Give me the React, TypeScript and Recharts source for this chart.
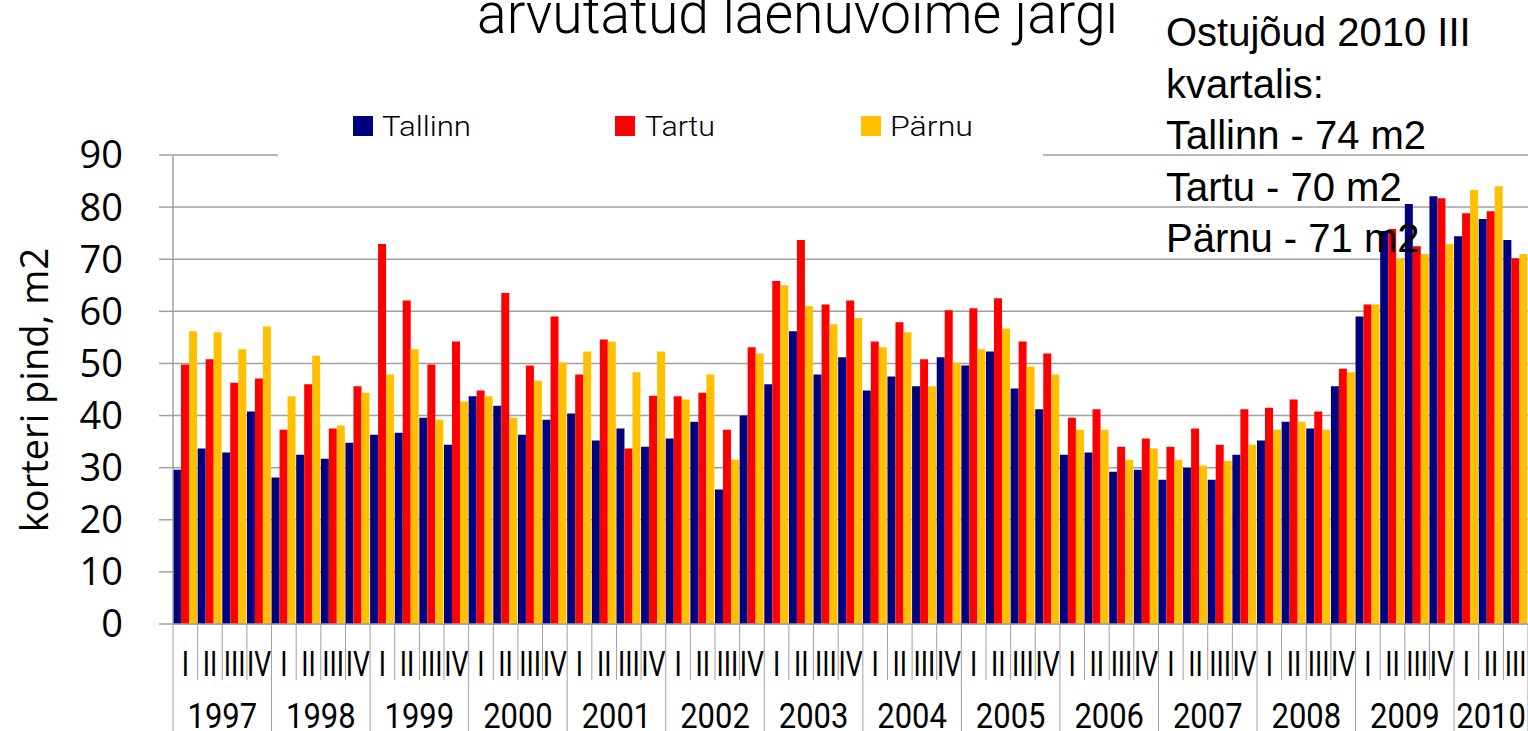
import { Bar, BarChart, CartesianGrid, Legend, XAxis, YAxis } from "recharts";

const years = ["1997", "1998", "1999", "2000", "2001", "2002", "2003", "2004", "2005", "2006", "2007", "2008", "2009", "2010"];
const quarters = ["I", "II", "III", "IV"];

// korteri pind m2, kvartalite kaupa 1997 I ... 2010 III
const tallinn = [
  29.6, 33.7, 32.9, 40.8, 28.1, 32.5, 31.7, 34.8, 36.3, 36.7, 39.6, 34.4,
  43.7, 41.9, 36.3, 39.2, 40.4, 35.2, 37.5, 34.0, 35.6, 38.8, 25.8, 40.0,
  46.0, 56.2, 47.9, 51.2, 44.8, 47.5, 45.6, 51.2, 49.6, 52.3, 45.2, 41.2,
  32.5, 32.9, 29.2, 29.6, 27.7, 30.0, 27.7, 32.5, 35.2, 38.8, 37.5, 45.6,
  59.0, 75.4, 80.6, 82.1, 74.4, 77.7, 73.7,
];
const tartu = [
  49.8, 50.8, 46.3, 47.1, 37.3, 46.0, 37.5, 45.6, 72.9, 62.1, 49.8, 54.2,
  44.8, 63.5, 49.6, 59.0, 47.9, 54.6, 33.7, 43.8, 43.7, 44.4, 37.3, 53.1,
  65.8, 73.7, 61.3, 62.1, 54.2, 57.9, 50.8, 60.2, 60.6, 62.5, 54.2, 51.9,
  39.6, 41.2, 34.0, 35.6, 34.0, 37.5, 34.4, 41.2, 41.5, 43.1, 40.8, 49.0,
  61.3, 75.8, 72.5, 81.7, 78.8, 79.2, 70.2,
];
const parnu = [
  56.2, 56.0, 52.7, 57.1, 43.7, 51.5, 38.1, 44.4, 47.9, 52.7, 39.2, 42.7,
  43.7, 39.6, 46.7, 50.2, 52.3, 54.2, 48.3, 52.3, 43.1, 47.9, 31.5, 51.9,
  65.0, 61.0, 57.5, 58.7, 53.1, 56.0, 45.6, 50.2, 52.7, 56.7, 49.4, 47.9,
  37.3, 37.3, 31.5, 33.7, 31.5, 30.4, 31.3, 34.4, 37.3, 38.8, 37.3, 48.3,
  61.3, 70.2, 71.0, 72.9, 83.3, 84.0, 71.0,
];

const seriesNames = ["Tallinn", "Tartu", "Pärnu"];
const seriesColors = ["#000080", "#ff0000", "#ffc000"];
const yTicks = [0, 10, 20, 30, 40, 50, 60, 70, 80, 90];
const noteLines = ["Ostujõud 2010 III", "kvartalis:", "Tallinn - 74 m2", "Tartu - 70 m2", "Pärnu - 71 m2"];

const data = tallinn.map((v, i) => ({
  year: years[Math.floor(i / 4)],
  q: quarters[i % 4],
  tallinn: v,
  tartu: tartu[i],
  parnu: parnu[i],
}));

const W = 1528;
const H = 731;
const GRID = "#a0a0a0";
const NARROW = "Roboto, 'Noto Sans', sans-serif";
const HUMAN = "'Open Sans', 'Noto Sans', sans-serif";

function QuarterTick(props: any) {
  const { x, y, payload } = props;
  const index = props.index ?? payload?.index ?? 0;
  const half = payload?.offset ?? (W - 173) / data.length / 2;
  const row = data[index];
  if (!row) return null;
  const left = x - half;
  const first = row.q === "I";
  const count = data.filter((d) => d.year === row.year).length;
  return (
    <g>
      <line x1={left} x2={left} y1={y} y2={first ? H : y + 56} stroke={GRID} strokeWidth={1} />
      {index === data.length - 1 && (
        <line x1={x + half} x2={x + half} y1={y} y2={H} stroke={GRID} strokeWidth={1} />
      )}
      <text
        transform={`translate(${x},${y + 52}) scale(0.74,1)`}
        textAnchor="middle"
        fontSize={36}
        fontFamily={NARROW}
        fill="#000"
      >
        {row.q}
      </text>
      {first && (
        <text
          transform={`translate(${left + count * half},${y + 104}) scale(0.86,1)`}
          textAnchor="middle"
          fontSize={36}
          fontFamily={NARROW}
          fill="#000"
        >
          {row.year}
        </text>
      )}
    </g>
  );
}

const legendPos = [
  { sq: 75, tx: 104, tw: 89 },
  { sq: 337, tx: 367, tw: 70 },
  { sq: 583, tx: 612, tw: 83 },
];

function LegendBox() {
  return (
    <svg width={765} height={58} style={{ display: "block", background: "#fff" }}>
      {seriesNames.map((name, i) => (
        <g key={name}>
          <rect x={legendPos[i].sq} y={16} width={20} height={20} fill={seriesColors[i]} />
          <text
            x={legendPos[i].tx}
            y={36}
            fontSize={28}
            fontFamily={NARROW}
            fontWeight={300}
            fill="#000"
            textLength={legendPos[i].tw}
            lengthAdjust="spacingAndGlyphs"
          >
            {name}
          </text>
        </g>
      ))}
    </svg>
  );
}

export default function App() {
  return (
    <div style={{ position: "absolute", left: 0, top: 0, width: W, height: H, background: "#fff" }}>
      <BarChart
        width={W}
        height={H}
        data={data}
        margin={{ top: 155, right: 0, bottom: 0, left: 0 }}
        barGap={0}
        barCategoryGap="2%"
      >
        <CartesianGrid vertical={false} stroke={GRID} strokeWidth={1.5} />
        <XAxis
          dataKey="q"
          height={107}
          interval={0}
          tickLine={false}
          tickSize={0}
          tickMargin={0}
          axisLine={{ stroke: GRID, strokeWidth: 1.5 }}
          tick={<QuarterTick />}
        />
        <YAxis
          width={173}
          domain={[0, 90]}
          ticks={yTicks}
          interval={0}
          tickSize={14}
          tickMargin={36}
          axisLine={{ stroke: GRID, strokeWidth: 1.5 }}
          tickLine={{ stroke: GRID, strokeWidth: 1.5 }}
          tick={{ fontSize: 38, fill: "#000", fontFamily: HUMAN }}
        />
        <Legend
          layout="horizontal"
          align="center"
          verticalAlign="middle"
          wrapperStyle={{ top: 100, left: 278, width: 765, height: 58 }}
          content={<LegendBox />}
        />
        <Bar dataKey="tallinn" name={seriesNames[0]} fill={seriesColors[0]} barSize={8} isAnimationActive={false} />
        <Bar dataKey="tartu" name={seriesNames[1]} fill={seriesColors[1]} barSize={8} isAnimationActive={false} />
        <Bar dataKey="parnu" name={seriesNames[2]} fill={seriesColors[2]} barSize={8} isAnimationActive={false} />
      </BarChart>
      <svg
        width={W}
        height={H}
        style={{ position: "absolute", left: 0, top: 0, pointerEvents: "none" }}
      >
        <text
          x={477}
          y={33}
          fontSize={57}
          fontFamily={NARROW}
          fontWeight={300}
          fill="#000"
          textLength={641}
          lengthAdjust="spacingAndGlyphs"
        >
          arvutatud laenuvõime järgi
        </text>
        {noteLines.map((line, i) => (
          <text
            key={line}
            x={1166}
            y={46 + i * 51.5}
            fontSize={40}
            fontFamily="'Liberation Sans', Arial, sans-serif"
            fill="#000"
          >
            {line}
          </text>
        ))}
        <text
          transform="translate(48,390) rotate(-90)"
          textAnchor="middle"
          fontSize={38}
          fontFamily={HUMAN}
          fill="#000"
        >
          korteri pind, m2
        </text>
      </svg>
    </div>
  );
}
